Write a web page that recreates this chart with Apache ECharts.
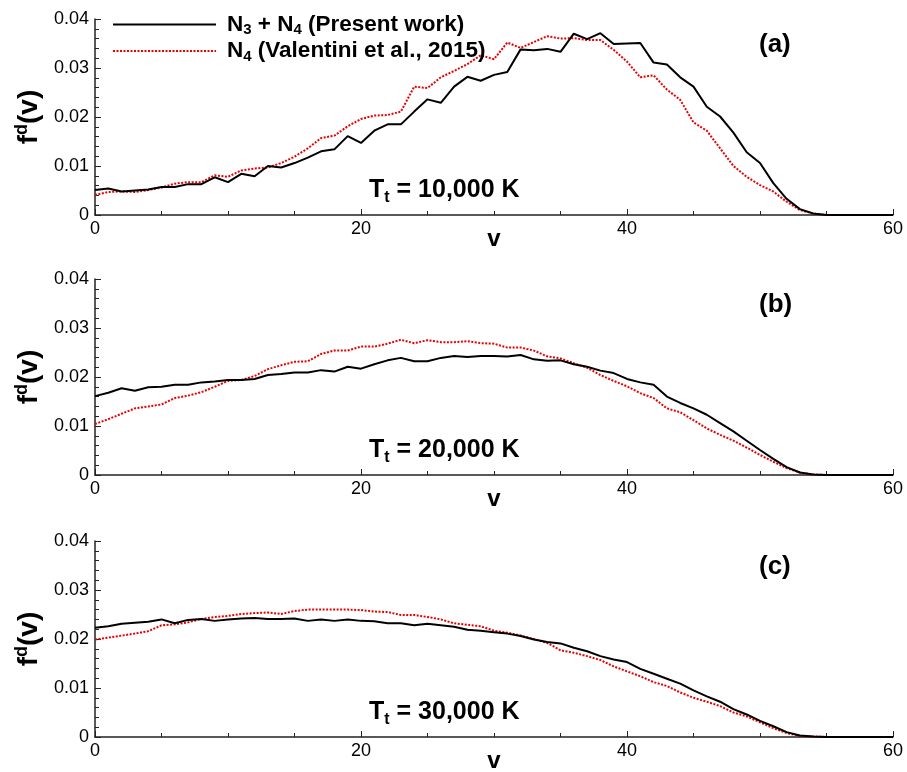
<!DOCTYPE html>
<html>
<head>
<meta charset="utf-8">
<script src="https://cdn.jsdelivr.net/npm/echarts@6/dist/echarts.min.js"></script>
<style>
html,body{margin:0;padding:0;background:#fff;}
#chart{width:907px;height:772px;}
</style>
</head>
<body>
<div id="chart"></div>
<script>
// v values (vibrational level)
var vLevels = [0,1,2,3,4,5,6,7,8,9,10,11,12,13,14,15,16,17,18,19,20,21,22,23,24,25,26,27,28,29,30,
  31,32,33,34,35,36,37,38,39,40,41,42,43,44,45,46,47,48,49,50,51,52,53,54,55,56,57,58,59,60];

// Panel (a) T_t = 10,000 K
var aPresent = [0.0051,0.0054,0.0048,0.0050,0.0052,0.0057,0.0057,0.0063,0.0063,0.0077,
  0.0067,0.0084,0.0079,0.0100,0.0097,0.0106,0.0117,0.0130,0.0134,0.0161,
  0.0147,0.0172,0.0185,0.0185,0.0211,0.0236,0.0229,0.0262,0.0282,0.0274,
  0.0286,0.0292,0.0338,0.0336,0.0339,0.0333,0.0370,0.0359,0.0371,0.0349,
  0.0350,0.0351,0.0311,0.0307,0.0281,0.0262,0.0221,0.0201,0.0168,0.0128,
  0.0106,0.0065,0.0033,0.0012,0.0003,0,0,0,0,0,0];
var aValentini = [0.0041,0.0047,0.0048,0.0047,0.0051,0.0056,0.0064,0.0067,0.0067,0.0081,
  0.0078,0.0091,0.0095,0.0097,0.0106,0.0119,0.0136,0.0157,0.0162,0.0181,
  0.0196,0.0203,0.0204,0.0211,0.0262,0.0259,0.0281,0.0294,0.0308,0.0326,
  0.0318,0.0352,0.0341,0.0353,0.0365,0.0360,0.0361,0.0357,0.0357,0.0337,
  0.0313,0.0281,0.0285,0.0256,0.0235,0.0189,0.0172,0.0136,0.0100,0.0078,
  0.0061,0.0048,0.0027,0.0010,0.0003,0,0,0,0,0,0];

// Panel (b) T_t = 20,000 K
var bPresent = [0.0161,0.0168,0.0177,0.0172,0.0179,0.0180,0.0184,0.0184,0.0189,0.0191,
  0.0194,0.0194,0.0196,0.0204,0.0206,0.0209,0.0209,0.0214,0.0211,0.0221,
  0.0217,0.0226,0.0234,0.0239,0.0232,0.0232,0.0239,0.0243,0.0241,0.0243,
  0.0243,0.0242,0.0245,0.0236,0.0233,0.0234,0.0226,0.0221,0.0213,0.0208,
  0.0196,0.0189,0.0184,0.0160,0.0147,0.0136,0.0123,0.0106,0.0089,0.0070,
  0.0051,0.0033,0.0016,0.0005,0.0001,0,0,0,0,0,0];
var bValentini = [0.0104,0.0114,0.0125,0.0136,0.0140,0.0144,0.0157,0.0162,0.0169,0.0180,
  0.0192,0.0194,0.0202,0.0216,0.0224,0.0231,0.0232,0.0247,0.0254,0.0254,
  0.0262,0.0262,0.0268,0.0276,0.0269,0.0275,0.0271,0.0271,0.0273,0.0269,
  0.0268,0.0260,0.0260,0.0254,0.0242,0.0238,0.0228,0.0219,0.0204,0.0192,
  0.0181,0.0167,0.0157,0.0136,0.0128,0.0112,0.0095,0.0082,0.0070,0.0056,
  0.0041,0.0027,0.0014,0.0005,0.0001,0,0,0,0,0,0];

// Panel (c) T_t = 30,000 K
var cPresent = [0.0223,0.0226,0.0231,0.0233,0.0235,0.0240,0.0232,0.0239,0.0241,0.0237,
  0.0240,0.0242,0.0243,0.0241,0.0241,0.0242,0.0237,0.0240,0.0237,0.0240,
  0.0237,0.0236,0.0232,0.0232,0.0228,0.0231,0.0228,0.0225,0.0219,0.0217,
  0.0214,0.0211,0.0206,0.0199,0.0194,0.0191,0.0182,0.0175,0.0165,0.0158,
  0.0153,0.0139,0.0129,0.0119,0.0109,0.0095,0.0083,0.0072,0.0057,0.0046,
  0.0033,0.0022,0.0010,0.0003,0.0001,0,0,0,0,0,0];
var cValentini = [0.0199,0.0203,0.0207,0.0211,0.0216,0.0228,0.0230,0.0234,0.0241,0.0245,
  0.0247,0.0251,0.0253,0.0254,0.0251,0.0257,0.0260,0.0260,0.0260,0.0260,
  0.0259,0.0256,0.0255,0.0249,0.0249,0.0245,0.0240,0.0232,0.0229,0.0226,
  0.0217,0.0213,0.0207,0.0200,0.0192,0.0177,0.0172,0.0165,0.0157,0.0144,
  0.0134,0.0124,0.0112,0.0104,0.0091,0.0080,0.0072,0.0063,0.0050,0.0042,
  0.0030,0.0018,0.0008,0.0002,0.0001,0,0,0,0,0,0];

var panelLabels = ['(a)', '(b)', '(c)'];
var tempLabels = ['10,000 K', '20,000 K', '30,000 K'];
var seriesNames = ['N3 + N4 (Present work)', 'N4 (Valentini et al., 2015)'];
var xTicks = [0, 20, 40, 60];
var yTicks = [0, 0.01, 0.02, 0.03, 0.04];

var FONT = '"Liberation Sans", Arial, Helvetica, sans-serif';
var presentSets = [aPresent, bPresent, cPresent];
var valentiniSets = [aValentini, bValentini, cValentini];
var gridTops = [19, 279, 541];

function pairs(vals) {
  return vLevels.map(function (v, i) { return [v, vals[i]]; });
}

var grids = [], xAxes = [], yAxes = [], series = [], graphics = [];
for (var p = 0; p < 3; p++) {
  grids.push({ left: 95, top: gridTops[p], width: 798, height: 196, containLabel: false, outerBoundsMode: 'none' });
  xAxes.push({
    type: 'value', gridIndex: p, min: xTicks[0], max: xTicks[xTicks.length - 1], interval: 20,
    name: 'v', nameLocation: 'middle', nameGap: 12, nameMoveOverlap: false,
    nameTextStyle: { fontFamily: FONT, fontWeight: 'bold', fontSize: 24, color: '#000' },
    axisLine: { show: true, onZero: false, lineStyle: { color: '#222', width: 1.5 } },
    axisTick: { show: true, inside: true, length: 6, lineStyle: { color: '#222', width: 1 } },
    minorTick: { show: true, splitNumber: 4, length: 4, lineStyle: { color: '#222', width: 1 } },
    axisLabel: { fontFamily: FONT, fontSize: 18, color: '#000', margin: 5 },
    splitLine: { show: false }
  });
  yAxes.push({
    type: 'value', gridIndex: p, min: yTicks[0], max: yTicks[yTicks.length - 1], interval: 0.01,
    name: '{f|f}{sup|d}{f|(v)}', nameLocation: 'middle', nameGap: 50, nameMoveOverlap: false,
    nameTextStyle: {
      color: '#000',
      rich: {
        f: { fontFamily: FONT, fontWeight: 'bold', fontSize: 28, lineHeight: 32, verticalAlign: 'middle', color: '#000' },
        sup: { fontFamily: FONT, fontWeight: 'bold', fontSize: 18, lineHeight: 32, verticalAlign: 'top', padding: [0, 0, 10, 0], color: '#000' }
      }
    },
    axisLine: { show: true, onZero: false, lineStyle: { color: '#222', width: 1.5 } },
    axisTick: { show: true, inside: true, length: 6, lineStyle: { color: '#222', width: 1 } },
    minorTick: { show: true, splitNumber: 5, length: 4, lineStyle: { color: '#222', width: 1 } },
    axisLabel: {
      fontFamily: FONT, fontSize: 18, color: '#000', margin: 6,
      formatter: function (val) { return val === 0 ? '0' : val.toFixed(2); }
    },
    splitLine: { show: false }
  });
  series.push({
    name: seriesNames[0], type: 'line', xAxisIndex: p, yAxisIndex: p,
    data: pairs(presentSets[p]), symbol: 'none', showSymbol: false,
    lineStyle: { color: '#000', width: 2 }, itemStyle: { color: '#000' }, z: 3
  });
  series.push({
    name: seriesNames[1], type: 'line', xAxisIndex: p, yAxisIndex: p,
    data: pairs(valentiniSets[p]), symbol: 'none', showSymbol: false,
    lineStyle: { color: '#e80000', width: 2, type: [2, 1.5] }, itemStyle: { color: '#e80000' }, z: 2
  });
  graphics.push({
    type: 'text', left: 759, top: gridTops[p] + 13,
    style: { text: panelLabels[p], font: 'bold 26px ' + FONT, fill: '#000' }
  });
  graphics.push({
    type: 'text', left: 369, top: gridTops[p] + 159,
    style: {
      text: '{m|T}{s|t}{m| = ' + tempLabels[p] + '}', fill: '#000',
      rich: {
        m: { fontFamily: FONT, fontWeight: 'bold', fontSize: 25, lineHeight: 30, verticalAlign: 'middle', fill: '#000' },
        s: { fontFamily: FONT, fontWeight: 'bold', fontSize: 16, lineHeight: 16, verticalAlign: 'bottom', fill: '#000' }
      }
    }
  });
}

var chart = echarts.init(document.getElementById('chart'), null, { renderer: 'canvas' });
chart.setOption({
  animation: false,
  backgroundColor: '#fff',
  grid: grids,
  xAxis: xAxes,
  yAxis: yAxes,
  legend: {
    orient: 'vertical', left: 107, top: 8, itemWidth: 103, itemHeight: 14, itemGap: 2,
    data: seriesNames,
    itemStyle: { opacity: 0 },
    formatter: function (name) {
      if (name === seriesNames[0]) return '{b|N}{s|3}{b| + N}{s|4}{b| (Present work)}';
      return '{b|N}{s|4}{b| (Valentini et al., 2015)}';
    },
    textStyle: {
      padding: [0, 0, 0, 6],
      rich: {
        b: { fontFamily: FONT, fontWeight: 'bold', fontSize: 22.5, lineHeight: 26, verticalAlign: 'middle', color: '#000' },
        s: { fontFamily: FONT, fontWeight: 'bold', fontSize: 15, lineHeight: 15, verticalAlign: 'bottom', color: '#000' }
      }
    }
  },
  graphic: graphics,
  series: series
});
</script>
</body>
</html>
